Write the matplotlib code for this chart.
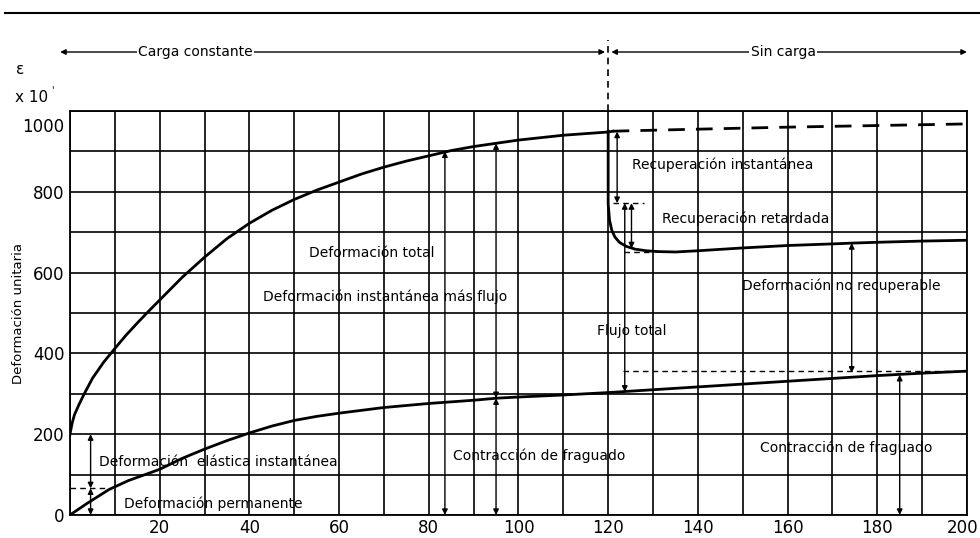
import numpy as np
import matplotlib
matplotlib.use("Agg")
import matplotlib.pyplot as plt
from matplotlib.lines import Line2D
import matplotlib.transforms as mtransforms

# tiempo (días) y deformación unitaria (x10^-6)
t_total = [0, 0.5, 1, 2, 3, 5, 7.5, 10, 12.5, 15, 17.5, 20, 25, 30, 35, 40, 45, 50, 55, 60,
           65, 70, 75, 80, 85, 90, 95, 100, 110, 120, 121]
e_total = [200, 228, 248, 273, 296, 338, 378, 412, 445, 475, 504, 532, 588, 638, 684, 722, 754, 781, 804, 824,
           844, 861, 876, 889, 902, 912, 920, 928, 940, 948, 950]

t_recov = [120, 120, 120.3, 120.8, 121.5, 122.5, 124, 126, 128.5, 131, 135, 140, 150, 160, 170, 174.5, 180, 190, 200]
e_recov = [950, 770, 730, 705, 688, 675, 665, 658, 654, 652, 651, 654, 661, 667, 671, 673, 675, 678, 680]

t_cont = [121, 140, 160, 180, 200]
e_cont = [950, 955, 960, 964, 968]

t_shrink = [0, 4, 8.7, 13, 17, 20, 25, 30, 35, 40, 45, 50, 55, 60, 70, 80, 90, 95, 100, 110, 120,
            130, 140, 150, 160, 170, 180, 190, 200]
e_shrink = [0, 30, 63, 85, 101, 113, 140, 163, 184, 203, 220, 234, 244, 252, 266, 276, 284, 289, 292, 297, 303,
            310, 317, 324, 331, 338, 345, 351, 356]

x_ticks = [20, 40, 60, 80, 100, 120, 140, 160, 180, 200]
y_ticks = [0, 200, 400, 600, 800, 1000]

# flechas dobles: (t, e_inicio, e_fin)
arrows = [(4.6, 200, 66), (4.6, 66, 0), (83.6, 900, 0), (95, 920, 289), (95, 289, 0),
          (122, 949, 772), (123.7, 772, 305), (125.2, 772, 660), (174.3, 673, 352), (185, 347, 0)]
# líneas de trazos auxiliares: (t0, t1, e)
dashes = [(0, 8.7, 66), (121, 128, 772), (123.5, 129, 652), (123.2, 200, 357)]

labels = [
    ("Deformación total", 67.2, 648, "center"),
    ("Deformación instantánea más flujo", 70.3, 540, "center"),
    ("Deformación  elástica instantánea", 6.5, 132, "left"),
    ("Deformación permanente", 12, 28, "left"),
    ("Contracción de fraguado", 85.5, 147, "left"),
    ("Contracción de fraguado", 153.8, 167, "left"),
    ("Recuperación instantánea", 125.4, 866, "left"),
    ("Recuperación retardada", 132.1, 733, "left"),
    ("Deformación no recuperable", 149.8, 567, "left"),
    ("Flujo total", 117.4, 456, "left"),
]

plt.rcParams['font.family'] = ['DejaVu Sans']

fig = plt.figure(figsize=(9.8, 5.38), dpi=100)
ax = fig.add_axes([0.0714, 0.0428, 0.9153, 0.7509])

ax.plot(t_total, e_total, color='black', lw=2)
ax.plot(t_recov, e_recov, color='black', lw=2)
ax.plot(t_cont, e_cont, color='black', lw=2, dashes=(6, 4))
ax.plot(t_shrink, e_shrink, color='black', lw=2)

ax.set_xlim(0, 200)
ax.set_ylim(0, 1000)
ax.set_xticks(x_ticks)
ax.set_xticks(np.arange(0, 201, 10), minor=True)
ax.set_yticks(y_ticks)
ax.set_yticks(np.arange(0, 1001, 100), minor=True)
ax.grid(True, which='both', color='black', lw=1.2)
ax.set_axisbelow(True)
ax.tick_params(which='both', length=0, labelsize=12)
ax.tick_params(axis='x', pad=3)
ax.tick_params(axis='y', pad=4)
for s in ax.spines.values():
    s.set_linewidth(1.3)

# la etiqueta 1000 va algo más abajo, la 200 del eje x algo a la izquierda
lab = ax.get_yticklabels()[-1]
lab.set_transform(lab.get_transform() + mtransforms.ScaledTranslation(0, -0.14, fig.dpi_scale_trans))
lab = ax.get_xticklabels()[-1]
lab.set_transform(lab.get_transform() + mtransforms.ScaledTranslation(-0.04, 0, fig.dpi_scale_trans))

aprops = dict(arrowstyle='<|-|>', lw=1, color='black', mutation_scale=8, shrinkA=0, shrinkB=0)
for t, e0, e1 in arrows:
    ax.annotate('', xy=(t, e1), xytext=(t, e0), arrowprops=aprops)
for t0, t1, e in dashes:
    ax.plot([t0, t1], [e, e], color='black', lw=1, dashes=(4, 3))

for txt, x, y, ha in labels:
    ax.text(x, y, txt, ha=ha, va='center', fontsize=10)

# periodos de carga arriba del gráfico
ax.plot([120, 120], [1000, 1175], color='black', lw=1.2, dashes=(4, 3), clip_on=False)
ax.annotate('', xy=(119.3, 1146), xytext=(-2.2, 1146), arrowprops=aprops, annotation_clip=False)
ax.annotate('', xy=(120.7, 1146), xytext=(200, 1146), arrowprops=aprops, annotation_clip=False)
ax.text(28, 1146, "Carga constante", ha='center', va='center', fontsize=10,
        bbox=dict(facecolor='white', edgecolor='none', pad=1), clip_on=False)
ax.text(159, 1146, "Sin carga", ha='center', va='center', fontsize=10,
        bbox=dict(facecolor='white', edgecolor='none', pad=1), clip_on=False)

fig.add_artist(Line2D([5 / 980, 1.0], [1 - 13 / 538, 1 - 13 / 538], color='black', lw=1.5))
fig.text(16 / 980, 1 - 70 / 538, "ε", fontsize=11, ha='left', va='center')
fig.text(15 / 980, 1 - 97 / 538, "x 10", fontsize=11, ha='left', va='center')
fig.text(51 / 980, 1 - 90 / 538, "'", fontsize=7, ha='left', va='center')
fig.text(18 / 980, 1 - 313 / 538, "Deformación unitaria", fontsize=9.5, rotation=90,
         ha='center', va='center')

fig.savefig("out.png", dpi=100)
